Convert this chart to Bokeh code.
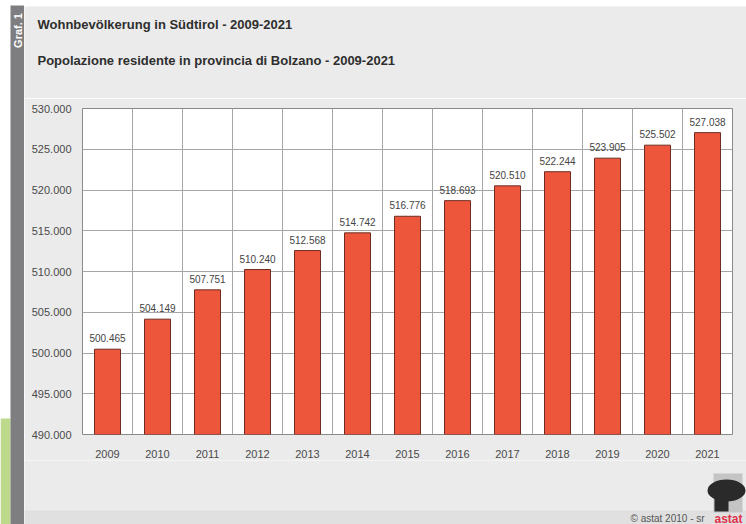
import math
from bokeh.plotting import figure
from bokeh.models import Range1d, FixedTicker, Label, ColumnDataSource
from bokeh.layouts import row, column
from bokeh.core.properties import value
from bokeh.embed import file_html
from bokeh.resources import INLINE

# ---- data ----
years = ["2009", "2010", "2011", "2012", "2013", "2014", "2015",
         "2016", "2017", "2018", "2019", "2020", "2021"]
population = [500465, 504149, 507751, 510240, 512568, 514742, 516776,
              518693, 520510, 522244, 523905, 525502, 527038]
value_labels = ["500.465", "504.149", "507.751", "510.240", "512.568", "514.742", "516.776",
                "518.693", "520.510", "522.244", "523.905", "525.502", "527.038"]
y_ticks = [490000, 495000, 500000, 505000, 510000, 515000, 520000, 525000, 530000]
y_tick_labels = ["490.000", "495.000", "500.000", "505.000", "510.000",
                 "515.000", "520.000", "525.000", "530.000"]
title_de = "Wohnbevölkerung in Südtirol - 2009-2021"
title_it = "Popolazione residente in provincia di Bolzano - 2009-2021"

FONT = "Liberation Sans"
BG = "#ebebeb"


def blank(width, height, bg):
    f = figure(width=width, height=height, x_range=Range1d(0, width), y_range=Range1d(0, height),
               toolbar_location=None, output_backend="svg", min_border=0)
    f.axis.visible = False
    f.grid.grid_line_color = None
    f.outline_line_color = None
    f.background_fill_color = bg
    f.border_fill_color = bg
    return f


# ---- left strip ----
strip = blank(24, 524, "white")
strip.quad(left=[0], right=[10], bottom=[0], top=[106], fill_color="#bdd98c", line_color=None)
strip.quad(left=[10], right=[23.5], bottom=[0], top=[519], fill_color="#7e7e80", line_color=None)
strip.add_layout(Label(x=17, y=494, text="Graf. 1", angle=math.pi / 2,
                       text_color="white", text_font=FONT, text_font_style="bold",
                       text_font_size="11px", text_align="center", text_baseline="middle"))

# ---- top band ----
top = blank(722, 6, "white")
top.quad(left=[0], right=[722], bottom=[0], top=[1.2], fill_color="#a0a0a0", line_color=None)

# ---- header with titles ----
header = blank(722, 92, BG)
header.add_layout(Label(x=13, y=74, text=title_de, text_font=FONT, text_font_style="bold",
                        text_font_size="13px", text_color="#2e2e2e", text_baseline="middle"))
header.add_layout(Label(x=13, y=38, text=title_it, text_font=FONT, text_font_style="bold",
                        text_font_size="13px", text_color="#2e2e2e", text_baseline="middle"))

# ---- main chart ----
n = len(years)
centers = [i + 0.5 for i in range(n)]
src = ColumnDataSource(dict(x=centers, top=population, lab=value_labels))

p = figure(width=722, height=362, x_range=Range1d(0, n), y_range=Range1d(490000, 530000),
           toolbar_location=None, output_backend="svg",
           min_border_left=58, min_border_right=14, min_border_top=10, min_border_bottom=26)
p.background_fill_color = "white"
p.border_fill_color = BG
p.outline_line_color = "#8a8a8a"
p.outline_line_width = 1

p.vbar(x="x", top="top", bottom=490000, width=0.52, source=src,
       fill_color="#ee563c", line_color="#6e2d22", line_width=1)
p.text(x="x", y="top", text="lab", source=src, text_align="center", text_baseline="bottom",
       y_offset=-7, text_font=value(FONT), text_font_size="10px", text_color="#444444")

p.xaxis.ticker = FixedTicker(ticks=centers)
p.xaxis.major_label_overrides = {c: y for c, y in zip(centers, years)}
p.yaxis.ticker = FixedTicker(ticks=y_ticks)
p.yaxis.major_label_overrides = {t: l for t, l in zip(y_ticks, y_tick_labels)}
for ax in (p.xaxis[0], p.yaxis[0]):
    ax.axis_line_color = None
    ax.major_tick_line_color = None
    ax.minor_tick_line_color = None
    ax.major_label_text_font = FONT
    ax.major_label_text_font_size = "11px"
    ax.major_label_text_color = "#4a4a4a"
p.xaxis.major_label_standoff = 9
p.yaxis.major_label_standoff = 5

p.xgrid.ticker = FixedTicker(ticks=list(range(n + 1)))
p.ygrid.ticker = FixedTicker(ticks=y_ticks)
p.grid.grid_line_color = "#a6a6a6"
p.grid.grid_line_width = 1

# ---- footer ----
foot = blank(722, 64, BG)
foot.quad(left=[0], right=[722], bottom=[0], top=[14], fill_color="#e0e0e0", line_color=None)
foot.quad(left=[689], right=[718], bottom=[12], top=[51], fill_color="#c4c4c4", line_color=None)
foot.ellipse(x=[702], y=[34], width=[38], height=[22], fill_color="#2a2a2a", line_color=None)
foot.quad(left=[690], right=[704], bottom=[13], top=[28], fill_color="#2a2a2a", line_color=None)
foot.add_layout(Label(x=606, y=6, text="© astat 2010 - sr", text_font=FONT,
                      text_font_size="10px", text_color="#555555", text_baseline="middle"))
foot.add_layout(Label(x=690, y=6, text="astat", text_font=FONT, text_font_style="bold",
                      text_font_size="12px", text_color="#e0304a", text_baseline="middle"))

layout = row(strip, column(row(top), row(header), p, row(foot), spacing=0), spacing=0)
open("out.html", "w").write(file_html(layout, INLINE))
